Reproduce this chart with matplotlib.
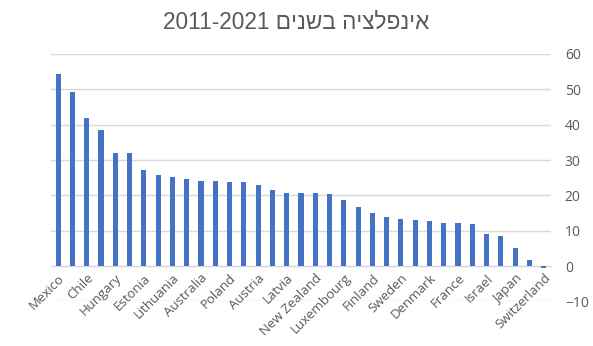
import matplotlib
matplotlib.use("Agg")
import matplotlib.pyplot as plt
import numpy as np

countries = ["Mexico", "Iceland", "Chile", "Colombia", "Hungary", "Czech Republic",
             "Estonia", "Slovakia", "Lithuania", "Norway", "Australia", "United Kingdom",
             "Poland", "Canada", "Austria", "Belgium", "Latvia", "Korea",
             "New Zealand", "United States", "Luxembourg", "Germany", "Finland", "Netherlands",
             "Sweden", "Italy", "Denmark", "Slovenia", "France", "Spain",
             "Israel", "Portugal", "Japan", "Greece", "Switzerland"]
values = [54.4, 49.2, 41.8, 38.4, 31.9, 31.9,
          27.1, 25.7, 25.1, 24.7, 24.0, 24.0,
          23.7, 23.7, 22.9, 21.5, 20.6, 20.6,
          20.6, 20.3, 18.6, 16.7, 15.0, 13.8,
          13.3, 13.0, 12.7, 12.3, 12.1, 11.9,
          9.0, 8.5, 5.1, 1.7, -0.7]
yticks = [-10, 0, 10, 20, 30, 40, 50, 60]
title_hebrew = "אינפלציה בשנים"
title_years = "2011-2021"

text_color = "#595959"
grid_color = "#d9d9d9"

fig = plt.figure(figsize=(5.93, 3.46), dpi=100)
ax = fig.add_axes([0.086, 0.129, 0.843, 0.715])

x = np.arange(len(countries))
ax.bar(x, values, width=0.36, color="#4472C4", zorder=3)

ax.set_xlim(-0.5, len(countries) - 0.5)
ax.set_ylim(-10, 60)
ax.set_yticks(yticks)
ax.yaxis.tick_right()
ax.tick_params(axis="y", length=0, pad=10, labelsize=10, labelcolor=text_color)
for lbl in ax.get_yticklabels():
    lbl.set_family(["Open Sans", "DejaVu Sans"])
ax.grid(axis="y", color=grid_color, lw=1, zorder=0)
for s in ["top", "left", "right"]:
    ax.spines[s].set_visible(False)
ax.spines["bottom"].set_position(("data", 0))
ax.spines["bottom"].set_color(grid_color)
ax.spines["bottom"].set_zorder(1)

ax.set_xticks(x)
ax.set_xticklabels([c if i % 2 == 0 else "" for i, c in enumerate(countries)],
                   rotation=45, ha="right", va="top", rotation_mode="anchor",
                   fontsize=9.5, color=text_color, family=["Open Sans", "DejaVu Sans"])
ax.tick_params(axis="x", length=0, pad=4)

# visual (left-to-right) order of the RTL title
title_visual = title_years + " " + title_hebrew[::-1]
fig.text(0.5, 0.937, title_visual, ha="center", va="center", fontsize=16.3,
         color=text_color, family=["Liberation Sans", "DejaVu Sans"])

fig.savefig("out.png", dpi=100)
